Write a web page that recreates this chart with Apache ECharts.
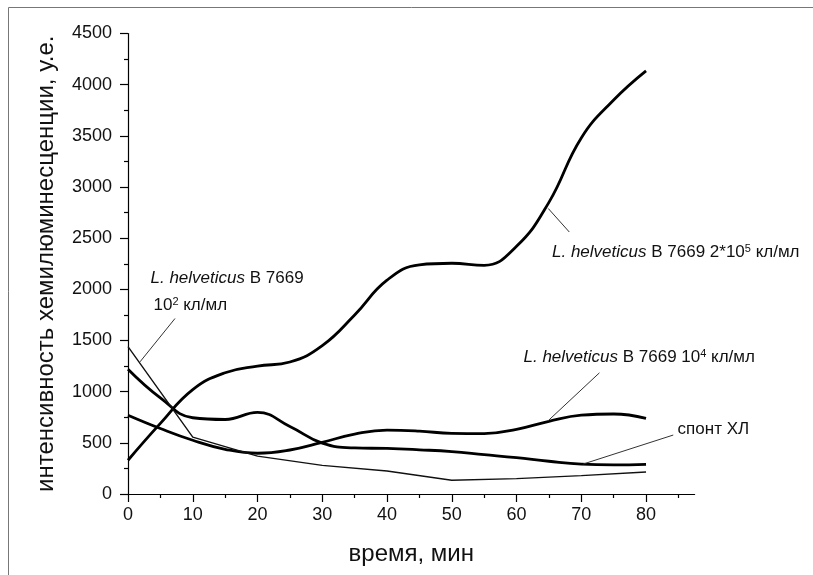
<!DOCTYPE html>
<html>
<head>
<meta charset="utf-8">
<script src="https://cdn.jsdelivr.net/npm/echarts@6/dist/echarts.min.js"></script>
<style>
  html, body { margin: 0; padding: 0; background: #fff; }
  #chart { width: 813px; height: 575px; }
</style>
</head>
<body>
<div id="chart"></div>
<script>
// Time points, minutes
const timeMin = [0, 5, 10, 15, 20, 25, 30, 35, 40, 45, 50, 55, 60, 65, 70, 75, 80];
const timeCoarse = [0, 10, 20, 30, 40, 50, 60, 70, 80];

// Chemiluminescence intensity, arbitrary units
const strain2e5 = [330, 690, 1020, 1185, 1250, 1290, 1450, 1750, 2090, 2240, 2255, 2235, 2420, 2850, 3480, 3850, 4135];
const strain1e4 = [770, 640, 525, 437, 398, 430, 505, 585, 625, 615, 592, 590, 632, 710, 770, 782, 740];
const spontCL   = [1220, 940, 745, 728, 797, 660, 497, 450, 445, 432, 415, 385, 355, 320, 292, 285, 290];
const strain1e2 = [1440, 556, 370, 280, 225, 135, 150, 180, 215];

// Axis ticks
const xMajorTicks = [0, 10, 20, 30, 40, 50, 60, 70, 80];
const xMinorTicks = [5, 15, 25, 35, 45, 55, 65, 75, 85];

const FONT = 'Liberation Sans, Arial, sans-serif';
const INK = '#111';

const pairs = (xs, ys) => xs.map((x, i) => [x, ys[i]]);

const rich = {
  i: { fontFamily: FONT, fontSize: 17, fontStyle: 'italic', color: INK },
  n: { fontFamily: FONT, fontSize: 17, color: INK },
  s: { fontFamily: FONT, fontSize: 11, color: INK, verticalAlign: 'top' }
};

function note(coord, text) {
  return {
    coord: coord,
    symbol: 'circle',
    symbolSize: 1,
    itemStyle: { color: 'rgba(0,0,0,0)' },
    label: { show: true, position: 'right', distance: 0, formatter: text, rich: rich }
  };
}

function leader(a, b) {
  return [{ coord: a }, { coord: b }];
}

const leaderStyle = { type: 'solid', width: 1, color: '#333' };

function annotations(points, lines) {
  return {
    markPoint: { silent: true, animation: false, data: points },
    markLine: {
      silent: true, animation: false, symbol: ['none', 'none'],
      label: { show: false }, lineStyle: leaderStyle,
      data: lines
    }
  };
}

const chart = echarts.init(document.getElementById('chart'), null, { renderer: 'canvas' });

chart.setOption({
  animation: false,
  backgroundColor: '#fff',
  graphic: [{
    type: 'rect', silent: true,
    shape: { x: 8.5, y: 7.5, width: 830, height: 600 },
    style: { fill: 'none', stroke: '#777', lineWidth: 1 }
  }],
  grid: { left: 128, right: 118.4, top: 33.5, bottom: 81, containLabel: false },
  xAxis: [{
    type: 'value', min: 0, max: 87.5,
    name: 'время, мин', nameLocation: 'middle', nameGap: 48,
    nameTextStyle: { fontFamily: FONT, fontSize: 24, color: INK },
    axisLine: { show: true, onZero: false, lineStyle: { color: '#000', width: 1.2 } },
    axisTick: { show: true, length: 8, customValues: xMajorTicks, lineStyle: { color: '#000', width: 1.2 } },
    axisLabel: { show: true, customValues: xMajorTicks, margin: 12, fontFamily: FONT, fontSize: 18, color: INK,
                 formatter: v => String(v) },
    splitLine: { show: false }
  }, {
    type: 'value', min: 0, max: 87.5, position: 'bottom',
    axisLine: { show: false },
    axisTick: { show: true, length: 4, customValues: xMinorTicks, lineStyle: { color: '#000', width: 1.2 } },
    axisLabel: { show: false },
    splitLine: { show: false }
  }],
  yAxis: {
    type: 'value', min: 0, max: 4500, interval: 500,
    name: 'интенсивность хемилюминесценции, у.е.', nameLocation: 'middle', nameGap: 70,
    nameTextStyle: { fontFamily: FONT, fontSize: 24, color: INK },
    axisLine: { show: true, lineStyle: { color: '#000', width: 1.2 } },
    axisTick: { show: true, length: 8, lineStyle: { color: '#000', width: 1.2 } },
    minorTick: { show: true, splitNumber: 2, length: 4, lineStyle: { color: '#000', width: 1.2 } },
    axisLabel: { margin: 16, fontFamily: FONT, fontSize: 18, color: INK, formatter: v => String(v) },
    splitLine: { show: false }
  },
  series: [
    Object.assign({
      name: 'L. helveticus B 7669 2*10^5 кл/мл',
      type: 'line', xAxisIndex: 0, smooth: 0.45, symbol: 'none',
      lineStyle: { color: '#000', width: 2.8 },
      data: pairs(timeMin, strain2e5)
    }, annotations(
      [note([65.4, 2365], '{i|L. helveticus}{n| В 7669 2*10}{s|5}{n| кл/мл}')],
      [leader([64.9, 2790], [68.15, 2560])]
    )),
    Object.assign({
      name: 'L. helveticus B 7669 10^4 кл/мл',
      type: 'line', xAxisIndex: 0, smooth: 0.45, symbol: 'none',
      lineStyle: { color: '#000', width: 2.8 },
      data: pairs(timeMin, strain1e4)
    }, annotations(
      [note([61.0, 1340], '{i|L. helveticus}{n| В 7669 10}{s|4}{n| кл/мл}')],
      [leader([72.8, 1184], [64.9, 717])]
    )),
    Object.assign({
      name: 'спонт ХЛ',
      type: 'line', xAxisIndex: 0, smooth: 0.45, symbol: 'none',
      lineStyle: { color: '#000', width: 2.8 },
      data: pairs(timeMin, spontCL)
    }, annotations(
      [note([84.8, 634], '{n|спонт ХЛ}')],
      [leader([84.2, 576], [70.3, 293])]
    )),
    Object.assign({
      name: 'L. helveticus B 7669 10^2 кл/мл',
      type: 'line', xAxisIndex: 0, smooth: false, symbol: 'none',
      lineStyle: { color: '#111', width: 1.4 },
      data: pairs(timeCoarse, strain1e2)
    }, annotations(
      [note([3.4, 2108], '{i|L. helveticus}{n| В 7669}'),
       note([3.86, 1845], '{n|10}{s|2}{n| кл/мл}')],
      [leader([7.26, 1715], [1.85, 1291])]
    ))
  ]
});
</script>
</body>
</html>
